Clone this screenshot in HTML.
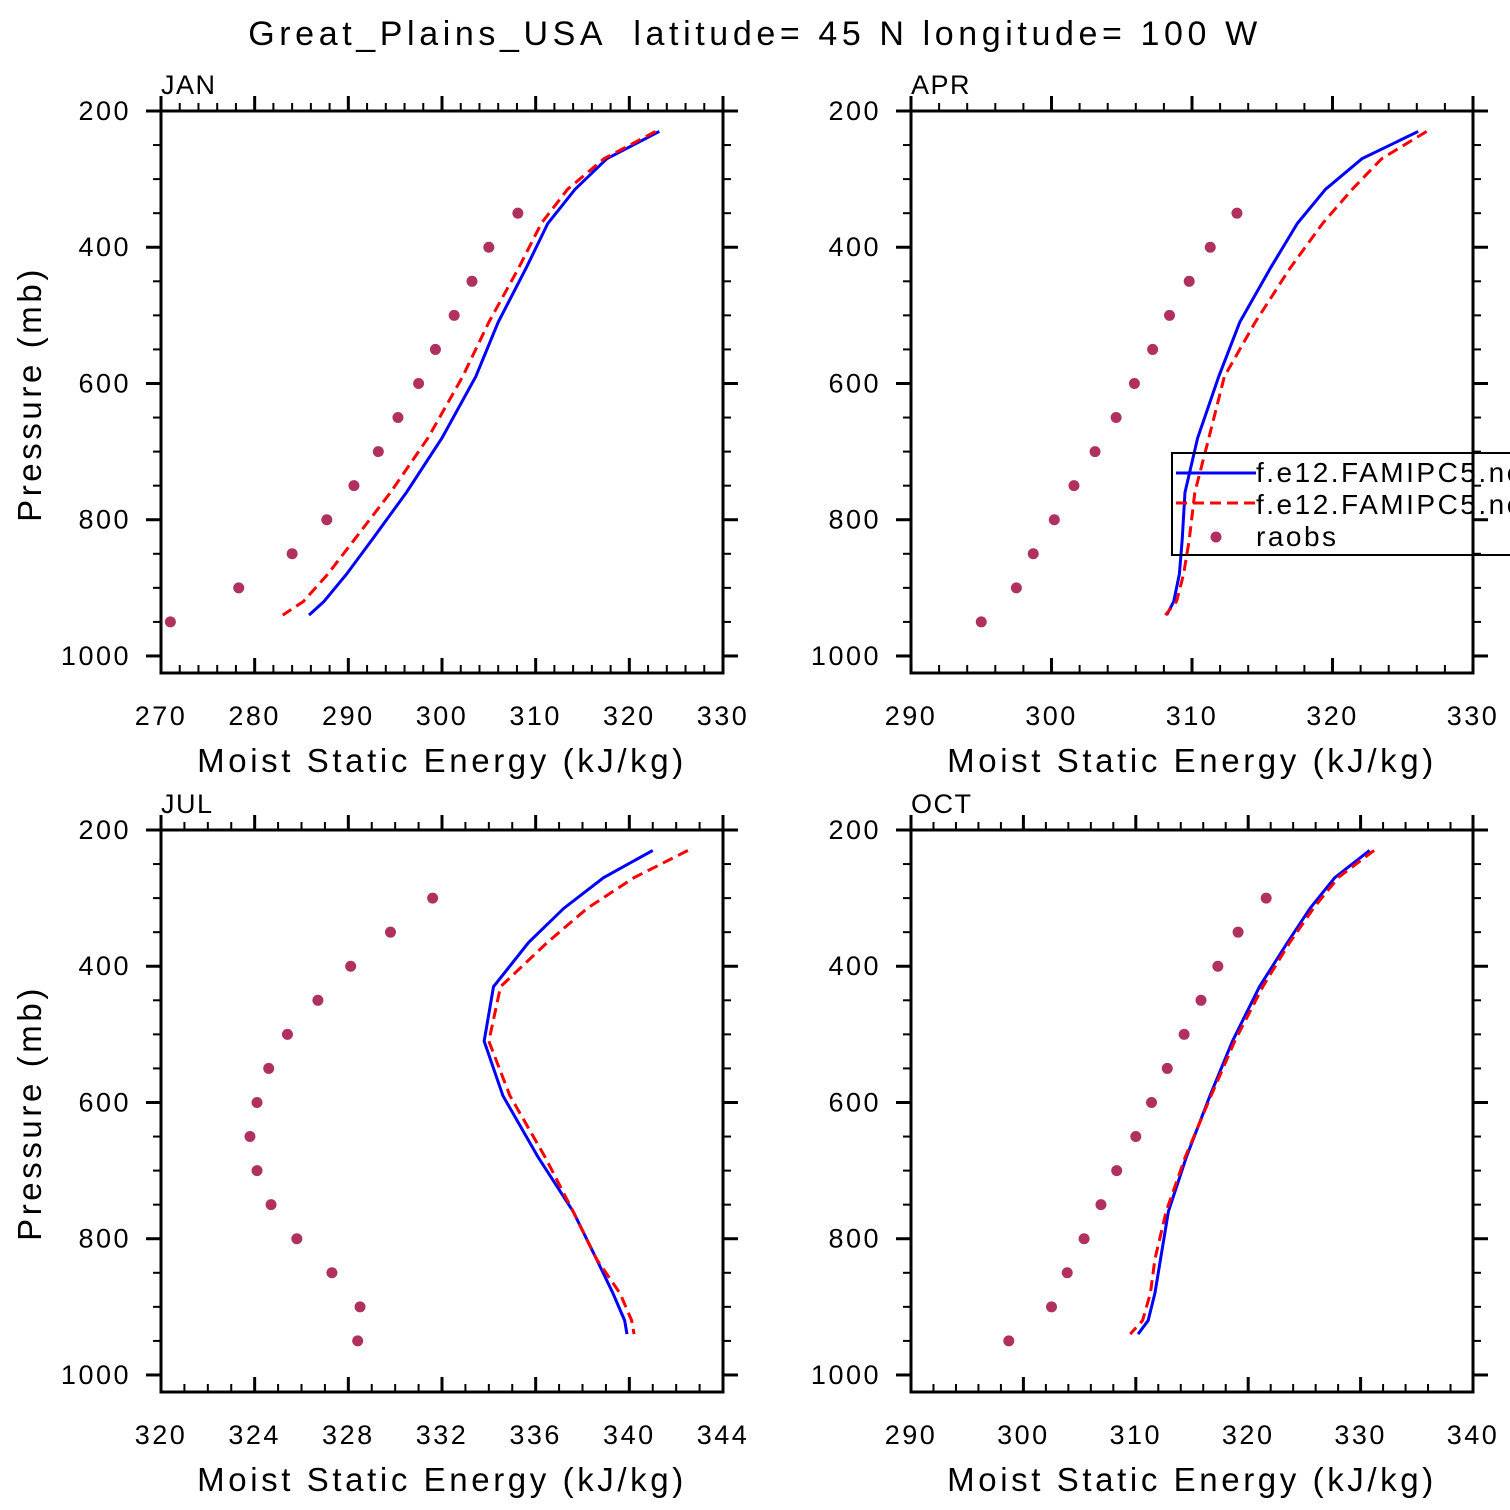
<!DOCTYPE html>
<html><head><meta charset="utf-8"><style>
html,body{margin:0;padding:0;background:#fff;width:1510px;height:1510px;overflow:hidden}
svg text{font-family:"Liberation Sans",sans-serif;fill:#000;white-space:pre}
</style></head><body>
<svg id="chart" width="1510" height="1510" viewBox="0 0 1510 1510" xmlns="http://www.w3.org/2000/svg">
<text x="755" y="45" font-size="34" text-anchor="middle" letter-spacing="4.6">Great_Plains_USA  latitude= 45 N longitude= 100 W</text>
</svg>
<script>
const modelLevels=[230,270,315,365,430,510,590,680,760,830,880,920,940];
const obsLevelsA=[350,400,450,500,550,600,650,700,750,800,850,900,950];
const obsLevelsB=[300,350,400,450,500,550,600,650,700,750,800,850,900,950];
const janBlue=[323.2,317.6,314.2,311.3,309,306,303.6,300,296.2,292.5,289.8,287.4,285.8];
const janRed=[322.8,317.3,313.4,310.6,308.2,305,302.2,298.5,294.5,290.6,287.8,285.2,283];
const janObs=[308.1,305,303.2,301.3,299.3,297.5,295.3,293.2,290.6,287.7,284,278.3,271];
const aprBlue=[326.1,322.1,319.5,317.5,315.6,313.4,311.9,310.4,309.5,309.3,309.1,308.7,308.2];
const aprRed=[326.7,323.5,321.4,319.3,317,314.5,312.3,311.2,310.2,309.8,309.4,308.9,308.1];
const aprObs=[313.2,311.3,309.8,308.4,307.2,305.9,304.6,303.1,301.6,300.2,298.7,297.5,295];
const julBlue=[341,338.9,337.2,335.7,334.2,333.8,334.6,336.1,337.6,338.6,339.3,339.8,339.9];
const julRed=[342.5,340.2,338.2,336.5,334.5,334.0,334.9,336.4,337.6,338.6,339.6,340.1,340.2];
const julObs=[331.6,329.8,328.1,326.7,325.4,324.6,324.1,323.8,324.1,324.7,325.8,327.3,328.5,328.4];
const octBlue=[330.8,327.7,325.5,323.5,321,318.6,316.6,314.5,312.9,312.2,311.7,311.1,310.2];
const octRed=[331.2,328,325.8,323.7,321.3,318.8,316.7,314.4,312.7,311.7,311.3,310.6,309.5];
const octObs=[321.6,319.1,317.3,315.8,314.3,312.8,311.4,310,308.3,306.9,305.4,303.9,302.5,298.7];
const pTicks=[200,400,600,800,1000];
const janX=[270,280,290,300,310,320,330];
const aprX=[290,300,310,320,330];
const julX=[320,324,328,332,336,340,344];
const octX=[290,300,310,320,330,340];

const NS="http://www.w3.org/2000/svg";
const svg=document.getElementById('chart');
function el(tag,attrs,parent){const e=document.createElementNS(NS,tag);for(const k in attrs)e.setAttribute(k,attrs[k]);(parent||svg).appendChild(e);return e;}

function panel(key,label,x0,y0,xmin,xmax,xticks,minorStep,blue,red,obsP,obs,showYTitle){
  const W=562,H=562;
  const g=el('g',{});
  
  
  const sx=v=>x0+(v-xmin)/(xmax-xmin)*W;
  const sy=p=>y0+(p-200)/825*H;
  for(let v=xmin;v<=xmax+1e-9;v+=minorStep){
    const major=xticks.some(t=>Math.abs(t-v)<1e-6);const L=major?15:8;const x=sx(v);
    el('line',{x1:x,y1:y0,x2:x,y2:y0-L,stroke:'#000','stroke-width':major?3:2},g);
    el('line',{x1:x,y1:y0+H,x2:x,y2:y0+H-L,stroke:'#000','stroke-width':major?3:2},g);
  }
  for(let p=200;p<=1025;p+=50){
    const major=pTicks.includes(p);const L=major?15:8;const y=sy(p);
    el('line',{x1:x0,y1:y,x2:x0-L,y2:y,stroke:'#000','stroke-width':major?3:2},g);
    el('line',{x1:x0+W,y1:y,x2:x0+W+L,y2:y,stroke:'#000','stroke-width':major?3:2},g);
  }
  const box=el('rect',{x:x0,y:y0,width:W,height:H,fill:'none',stroke:'#000','stroke-width':3},g);
  
  
  const ml=el('text',{x:x0,y:y0-17,'font-size':27,'letter-spacing':1.5},g);ml.textContent=label;
  
  
  pTicks.forEach(p=>{const t=el('text',{x:x0-30,y:sy(p)+9,'font-size':27,'text-anchor':'end','letter-spacing':2.5},g);t.textContent=p;
    
    });
  xticks.forEach(v=>{const t=el('text',{x:sx(v),y:y0+H+52,'font-size':27,'text-anchor':'middle','letter-spacing':2.5},g);t.textContent=v;
    
    });
  const xt=el('text',{x:x0+W/2,y:y0+H+99,'font-size':33,'text-anchor':'middle','letter-spacing':3.6},g);xt.textContent='Moist Static Energy (kJ/kg)';
  
  
  if(showYTitle){const cy=y0+H/2+2;const yt=el('text',{x:41,y:cy,'font-size':33,'text-anchor':'middle','letter-spacing':3.6,transform:`rotate(-90 41 ${cy})`},g);yt.textContent='Pressure (mb)';
    
    }
  const bl=el('polyline',{points:blue.map((v,i)=>sx(v)+','+sy(modelLevels[i])).join(' '),fill:'none',stroke:'#0000ff','stroke-width':3},g);
  
  
  const rl=el('polyline',{points:red.map((v,i)=>sx(v)+','+sy(modelLevels[i])).join(' '),fill:'none',stroke:'#ff0000','stroke-width':3,'stroke-dasharray':'11,6'},g);
  
  
  obs.forEach((v,i)=>{const c=el('circle',{cx:sx(v),cy:sy(obsP[i]),r:5.5,fill:'#b03060'},g);
    
    });
}
panel('jan','JAN',161,111,270,330,janX,2,janBlue,janRed,obsLevelsA,janObs,true);
panel('apr','APR',911,111,290,330,aprX,2,aprBlue,aprRed,obsLevelsA,aprObs,false);
panel('jul','JUL',161,830,320,344,julX,1,julBlue,julRed,obsLevelsB,julObs,true);
panel('oct','OCT',911,830,290,340,octX,2,octBlue,octRed,obsLevelsB,octObs,false);

const lg=el('g',{});


el('rect',{x:1172,y:453,width:360,height:102,fill:'none',stroke:'#000','stroke-width':2},lg);
el('line',{x1:1176,y1:473,x2:1256,y2:473,stroke:'#0000ff','stroke-width':3},lg);
el('line',{x1:1176,y1:503,x2:1256,y2:503,stroke:'#ff0000','stroke-width':3,'stroke-dasharray':'11,6'},lg);
el('circle',{cx:1216,cy:537,r:5.5,fill:'#b03060'},lg);
const names=['f.e12.FAMIPC5.ne','f.e12.FAMIPC5.ne','raobs'];
names.forEach((n,i)=>{const t=el('text',{x:1256,y:482+i*32,'font-size':28,'letter-spacing':2.5},lg);t.textContent=n;
  
  });
</script>
</body></html>
